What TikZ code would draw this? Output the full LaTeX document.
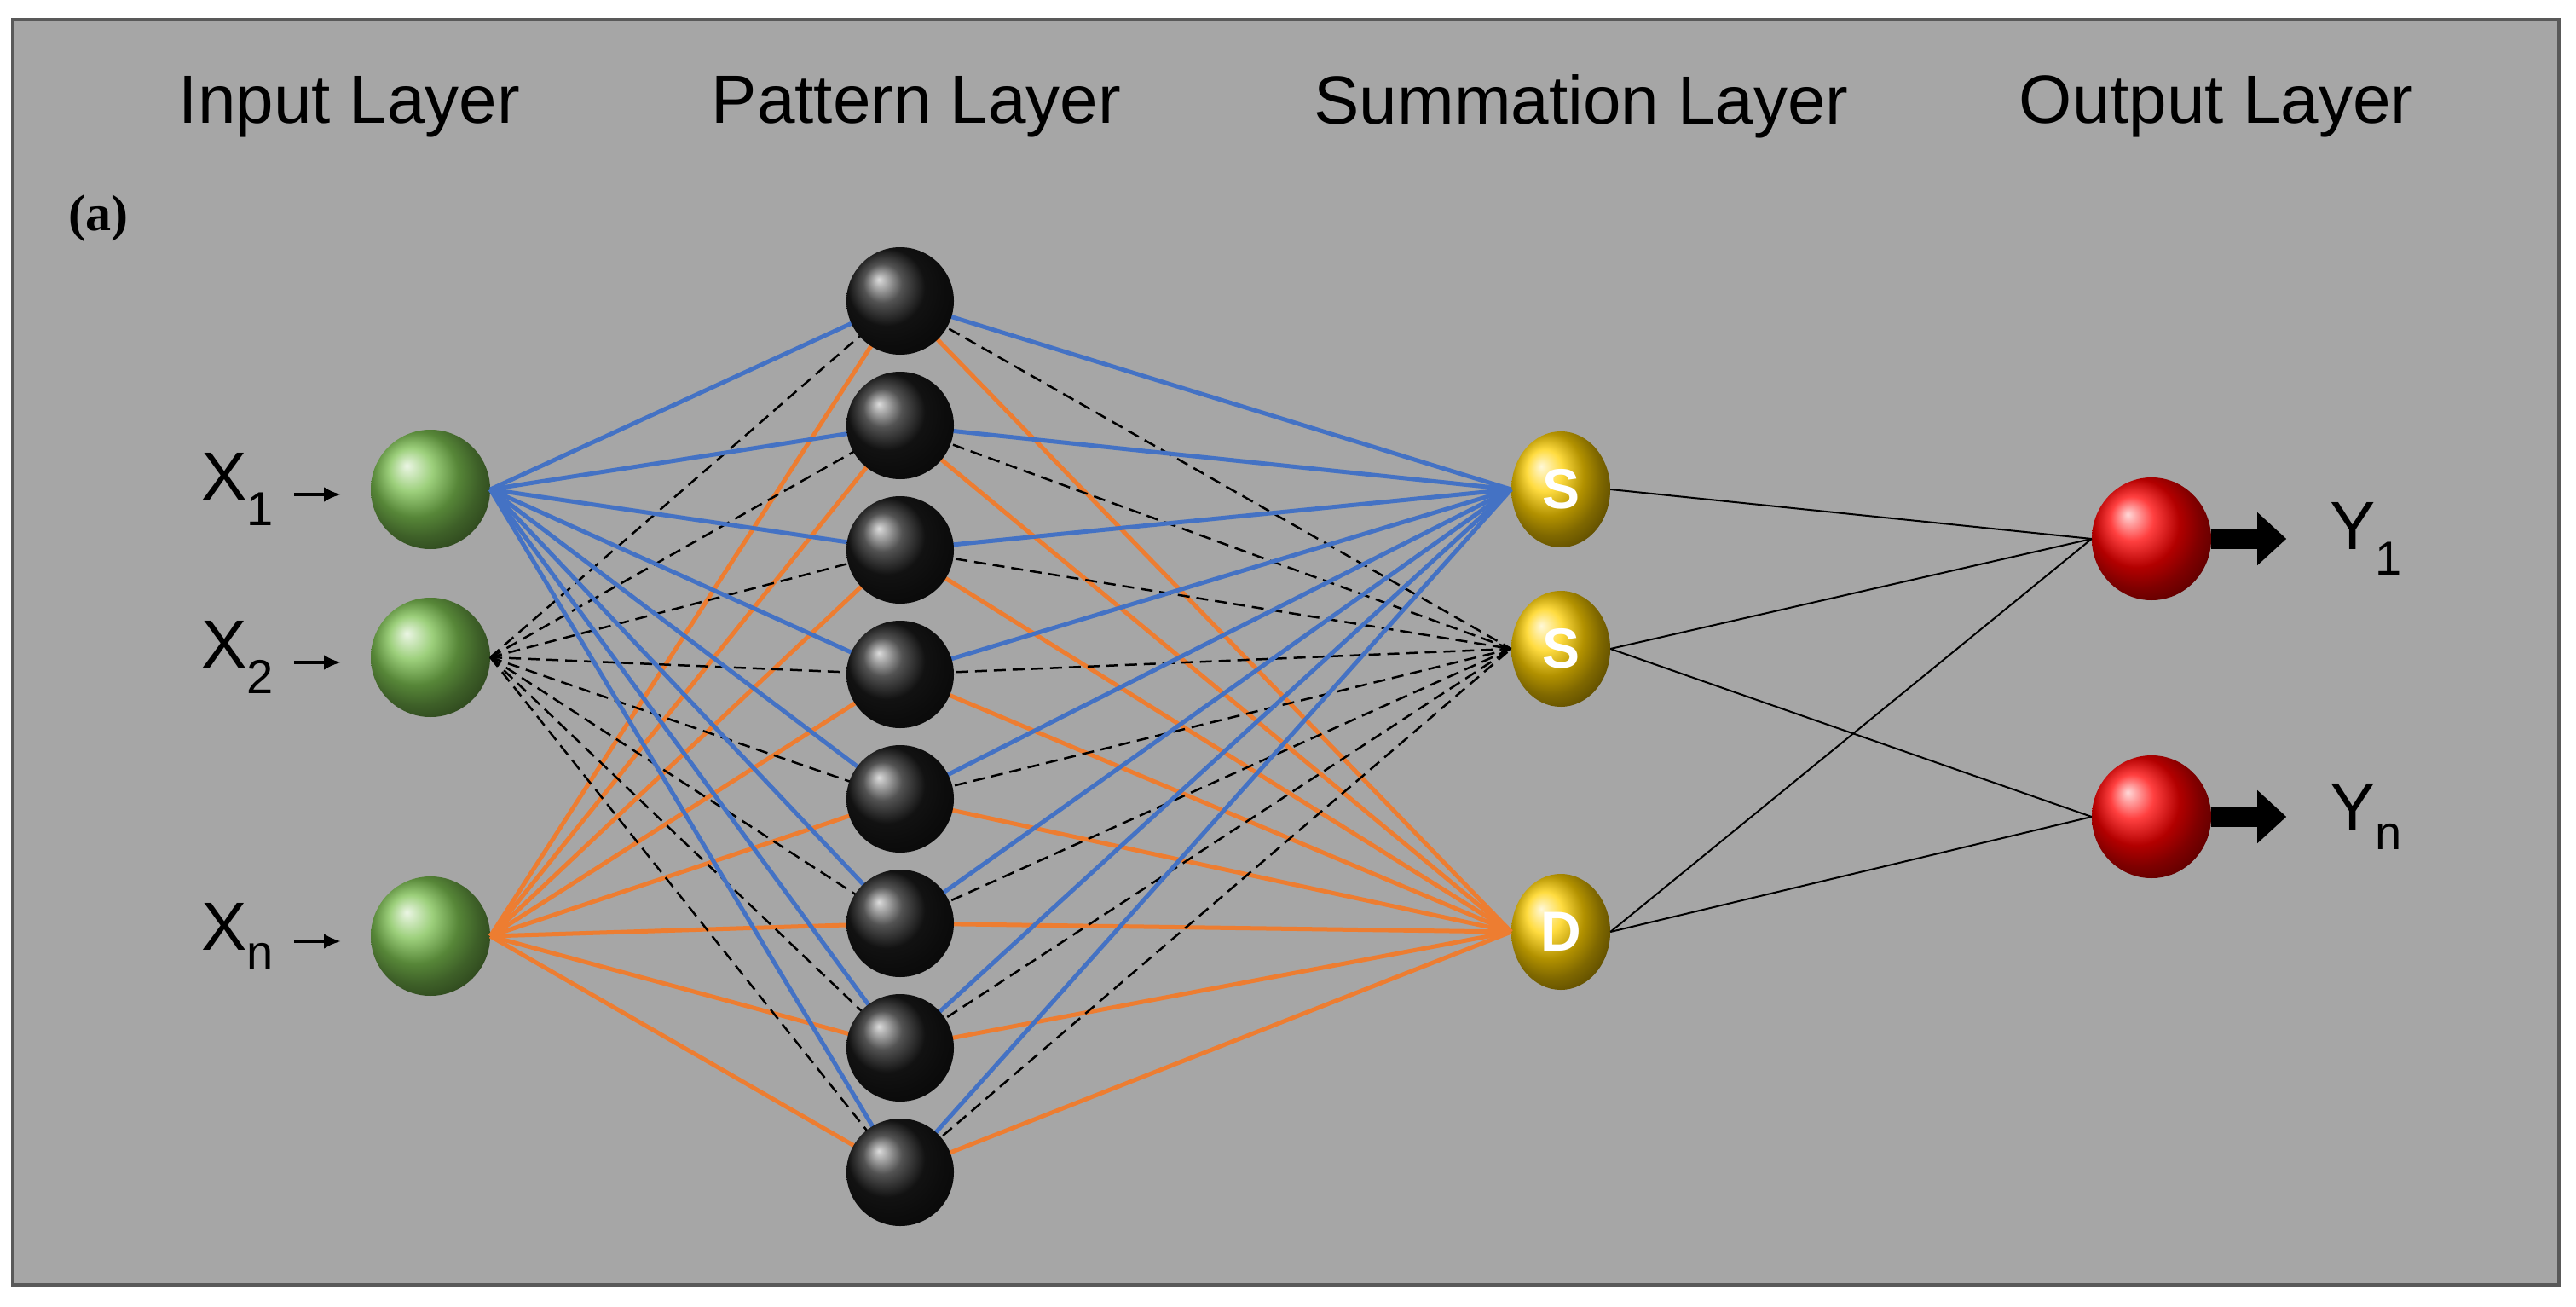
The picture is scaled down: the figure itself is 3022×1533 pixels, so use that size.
\documentclass[tikz,border=0pt]{standalone}
\usepackage{fontspec}
\setmainfont{Liberation Sans}
\newfontfamily\capfont{Liberation Serif}
\usetikzlibrary{arrows.meta}
\definecolor{bgray}{HTML}{A6A6A6}
\definecolor{eblue}{HTML}{4472C4}
\definecolor{eorange}{HTML}{ED7D31}
\definecolor{bgreen}{HTML}{7CC050}
\definecolor{bgold}{HTML}{FFD000}
\tikzset{
  inp/.style={circle,minimum size=140pt,inner sep=0pt,shading=ball,ball color=bgreen},
  pat/.style={circle,minimum size=126pt,inner sep=0pt,shading=ball,ball color=black!90},
  sum/.style={ellipse,minimum width=116pt,minimum height=136pt,inner sep=0pt,shading=ball,ball color=bgold,text=white,font=\bfseries\fontsize{66}{70}\selectfont},
  outp/.style={ellipse,minimum width=140pt,minimum height=144pt,inner sep=0pt,shading=ball,ball color=red},
  lbl/.style={font=\fontsize{80}{96}\selectfont},
  bl/.style={eblue,line width=5pt},
  og/.style={eorange,line width=5pt},
  ds/.style={black,dashed,line width=2.5pt,dash pattern=on 14pt off 8pt},
  thin/.style={black,line width=2pt}
}
\usetikzlibrary{shapes.geometric}
\begin{document}
\begin{tikzpicture}[x=1pt,y=-1pt]
  \useasboundingbox (0,0) rectangle (3022,1533);
  \fill[white] (0,0) rectangle (3022,1533);
  \draw[gray!70!black,line width=4pt,fill=bgray] (15,23) rectangle (3002,1507);

  \node[lbl] (tin) at (410,125) {Input Layer};
  \node[lbl] (tpat) at (1075,125) {Pattern Layer};
  \node[lbl] (tsum) at (1855,125) {Summation Layer};
  \node[lbl] (tout) at (2600,125) {Output Layer};
  \node[font=\capfont\bfseries\fontsize{60}{66}\selectfont] (cap) at (115,256) {(a)};

  % pattern nodes
  \foreach \i in {1,...,8}
    \coordinate (c\i) at (1056,{353+146*(\i-1)});

  % input nodes
  \node[inp] (x1) at (505,574) {};
  \node[inp] (x2) at (505,771) {};
  \node[inp] (xn) at (505,1098) {};

  % summation and output nodes
  \node[sum] (s1) at (1831,574) {S};
  \node[sum] (s2) at (1831,761) {S};
  \node[sum] (d) at (1831,1093) {D};
  \node[outp] (y1) at (2524,632) {};
  \node[outp] (yn) at (2524,958) {};

  \foreach \i in {1,...,8} {
    \draw[ds] (x2.east) -- (c\i);
    \draw[ds] (c\i) -- (s2.west);
    \draw[bl] (x1.east) -- (c\i);
    \draw[og] (xn.east) -- (c\i);
    \draw[bl] (c\i) -- (s1.west);
    \draw[og] (c\i) -- (d.west);
  }
  \foreach \i in {1,...,8}
    \node[pat] (p\i) at (c\i) {};

  \draw[thin] (s1.east) -- (y1.west);
  \draw[thin] (s2.east) -- (y1.west);
  \draw[thin] (s2.east) -- (yn.west);
  \draw[thin] (d.east) -- (y1.west);
  \draw[thin] (d.east) -- (yn.west);

  % input labels
  \node[lbl,anchor=east] (lx1) at (325,574) {X$_{\mathrm{1}}$};
  \node[lbl,anchor=east] (lx2) at (325,771) {X$_{\mathrm{2}}$};
  \node[lbl,anchor=east] (lxn) at (325,1098) {X$_{\mathrm{n}}$};
  \foreach \a/\b in {lx1/x1,lx2/x2,lxn/xn}
    \draw[-{Latex[length=20pt,width=18pt]},line width=4pt] (\a.east) ++(20,6) -- ++(55,0);

  % output labels
  \node[lbl,anchor=west] (ly1) at (2730,632) {Y$_{\mathrm{1}}$};
  \node[lbl,anchor=west] (lyn) at (2730,958) {Y$_{\mathrm{n}}$};
  \foreach \a/\b in {y1/ly1,yn/lyn}
    \draw[-{Triangle[length=34pt,width=60pt]},line width=24pt] (\a.east) -- ++(88,0);
\end{tikzpicture}
\end{document}
